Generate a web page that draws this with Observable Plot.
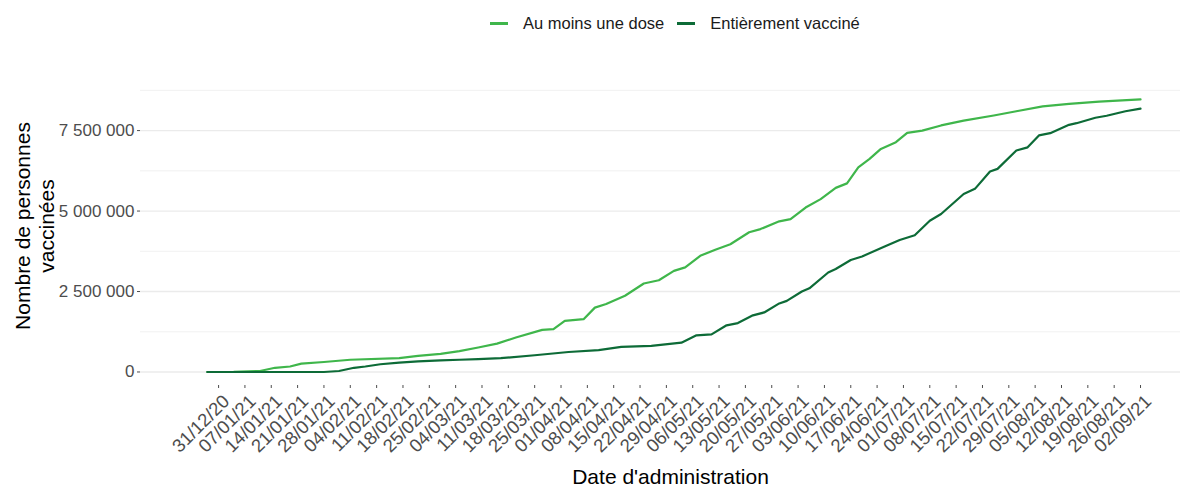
<!DOCTYPE html>
<html><head><meta charset="utf-8">
<script src="https://cdn.jsdelivr.net/npm/d3@7"></script>
<script src="https://cdn.jsdelivr.net/npm/@observablehq/plot@0.6"></script>
<style>
body{margin:0;background:#fff;font-family:"Liberation Sans",Arial,sans-serif;}
#wrap{position:relative;width:1186px;height:486px;overflow:hidden;}
#legend{position:relative;height:45px;}
#legend .row{position:absolute;left:490px;top:14px;display:flex;align-items:center;}
#legend .item{display:flex;align-items:center;font-size:16.5px;color:#1a1a1a;margin-right:13px;line-height:19px;}
#legend .sw{width:18px;height:2.5px;margin-right:15px;}
</style></head><body>
<div id="wrap"><div id="legend"></div><div id="chart"></div></div>
<script>
// ---- data (values in millions of persons) ----
const seriesNames = ["Au moins une dose", "Entièrement vacciné"];
const seriesColors = ["#3fb64b", "#0d6b37"];

const doseDates = ["2020-12-28","2021-01-04","2021-01-11","2021-01-15","2021-01-19","2021-01-22","2021-01-28","2021-02-04","2021-02-17","2021-02-22","2021-02-28","2021-03-05","2021-03-10","2021-03-15","2021-03-20","2021-03-27","2021-03-30","2021-04-02","2021-04-07","2021-04-10","2021-04-13","2021-04-18","2021-04-23","2021-04-27","2021-05-01","2021-05-04","2021-05-08","2021-05-12","2021-05-16","2021-05-21","2021-05-24","2021-05-29","2021-06-01","2021-06-05","2021-06-09","2021-06-13","2021-06-16","2021-06-19","2021-06-22","2021-06-25","2021-06-29","2021-07-02","2021-07-06","2021-07-11","2021-07-17","2021-07-25","2021-07-31","2021-08-07","2021-08-14","2021-08-22","2021-09-02"];
const doseValues = [0,0.005,0.03,0.13,0.17,0.26,0.31,0.38,0.43,0.50,0.56,0.65,0.76,0.88,1.07,1.31,1.33,1.59,1.64,2.00,2.11,2.37,2.75,2.85,3.14,3.25,3.61,3.80,3.97,4.34,4.44,4.68,4.75,5.11,5.37,5.72,5.86,6.36,6.62,6.93,7.14,7.43,7.50,7.66,7.81,7.97,8.10,8.25,8.33,8.40,8.47];

const fullDates = ["2020-12-28","2021-01-28","2021-02-01","2021-02-05","2021-02-08","2021-02-12","2021-02-17","2021-02-22","2021-02-28","2021-03-05","2021-03-10","2021-03-16","2021-03-25","2021-04-03","2021-04-11","2021-04-17","2021-04-25","2021-05-03","2021-05-07","2021-05-11","2021-05-15","2021-05-18","2021-05-22","2021-05-25","2021-05-29","2021-05-31","2021-06-04","2021-06-06","2021-06-11","2021-06-13","2021-06-17","2021-06-20","2021-06-26","2021-06-30","2021-07-04","2021-07-08","2021-07-11","2021-07-17","2021-07-20","2021-07-24","2021-07-26","2021-07-31","2021-08-03","2021-08-06","2021-08-09","2021-08-14","2021-08-16","2021-08-21","2021-08-24","2021-08-29","2021-09-02"];
const fullValues = [0,0,0.03,0.13,0.17,0.24,0.29,0.33,0.36,0.38,0.40,0.43,0.52,0.62,0.68,0.78,0.81,0.91,1.14,1.17,1.45,1.52,1.76,1.85,2.13,2.21,2.50,2.60,3.09,3.20,3.48,3.59,3.90,4.10,4.25,4.70,4.91,5.53,5.69,6.23,6.31,6.88,6.98,7.35,7.42,7.68,7.73,7.90,7.96,8.10,8.18];

const xTickLabels = ["31/12/20","07/01/21","14/01/21","21/01/21","28/01/21","04/02/21","11/02/21","18/02/21","25/02/21","04/03/21","11/03/21","18/03/21","25/03/21","01/04/21","08/04/21","15/04/21","22/04/21","29/04/21","06/05/21","13/05/21","20/05/21","27/05/21","03/06/21","10/06/21","17/06/21","24/06/21","01/07/21","08/07/21","15/07/21","22/07/21","29/07/21","05/08/21","12/08/21","19/08/21","26/08/21","02/09/21"];
const yTicks = [0, 2500000, 5000000, 7500000];
const yMinorTicks = [1250000, 3750000, 6250000, 8750000];
const xTitle = "Date d'administration";
const yTitle = "Nombre de personnes\nvaccinées";

// ---- build table ----
const parseDMY = s => { const [d,m,y] = s.split("/").map(Number); return new Date(Date.UTC(2000 + y, m - 1, d)); };
const xTicks = xTickLabels.map(parseDMY);
const rows = [
  ...doseDates.map((d, i) => ({series: seriesNames[0], date: new Date(d + "T00:00:00Z"), value: doseValues[i] * 1e6})),
  ...fullDates.map((d, i) => ({series: seriesNames[1], date: new Date(d + "T00:00:00Z"), value: fullValues[i] * 1e6}))
];
const fmtY = v => d3.format(",")(v).replace(/,/g, " ");
const fmtX = d3.utcFormat("%d/%m/%y");

// ---- legend ----
const row = document.createElement("div"); row.className = "row";
seriesNames.forEach((n, i) => {
  const it = document.createElement("div"); it.className = "item";
  const sw = document.createElement("span"); sw.className = "sw"; sw.style.background = seriesColors[i];
  const tx = document.createElement("span"); tx.textContent = n;
  it.append(sw, tx); row.append(it);
});
document.getElementById("legend").append(row);

// ---- chart ----
const chart = Plot.plot({
  width: 1186, height: 441,
  marginLeft: 140, marginRight: 6, marginTop: 41, marginBottom: 101,
  style: {fontFamily: "Liberation Sans, Arial, sans-serif", background: "white", overflow: "visible"},
  x: {type: "utc", domain: [new Date(Date.UTC(2020, 11, 10, 6)), new Date(Date.UTC(2021, 8, 12, 15))]},
  y: {domain: [-420000, 8870000]},
  color: {domain: seriesNames, range: seriesColors},
  marks: [
    Plot.gridY(yMinorTicks, {stroke: "#ebebeb", strokeOpacity: 1, strokeWidth: 0.7}),
    Plot.gridY(yTicks, {stroke: "#ebebeb", strokeOpacity: 1, strokeWidth: 1.3}),
    Plot.axisY(yTicks, {tickFormat: fmtY, tickSize: 3, tickPadding: 3, fontSize: 17, color: "#4d4d4d", label: null}),
    Plot.axisX(xTicks, {tickFormat: () => "", tickSize: 3, color: "#4d4d4d", label: null}),
    Plot.text(xTicks, {x: d => d, text: d => fmtX(d), frameAnchor: "bottom", rotate: -45, textAnchor: "end", lineAnchor: "bottom", dx: 12, dy: 17, fontSize: 18.5, fill: "#4d4d4d"}),
    Plot.lineY(rows, {x: "date", y: "value", z: "series", stroke: "series", strokeWidth: 2.2}),
    Plot.text([yTitle], {text: d => d, frameAnchor: "left", textAnchor: "middle", dx: -106, dy: -10, rotate: -90, fontSize: 21, lineHeight: 1.15, fill: "#000"}),
    Plot.text([xTitle], {text: d => d, frameAnchor: "bottom", textAnchor: "middle", dx: 10, dy: 98, fontSize: 21, fill: "#000"})
  ]
});
document.getElementById("chart").append(chart);
</script>
</body></html>
